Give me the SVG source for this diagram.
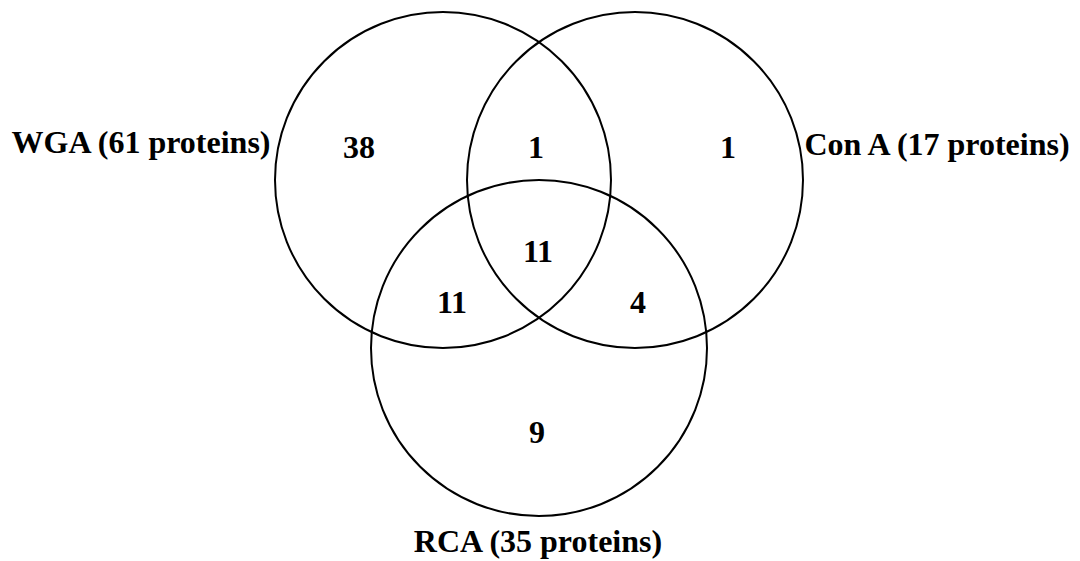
<svg xmlns="http://www.w3.org/2000/svg" width="1080" height="561" viewBox="0 0 1080 561">
<style>
.c{fill:none;stroke:#000;stroke-width:2}
text{font-family:"Liberation Serif","Times New Roman",serif;font-weight:bold;font-size:32px;fill:#000;text-anchor:middle}
</style>
<rect width="1080" height="561" fill="#fff"/>
<g id="wga"><circle class="c" cx="443" cy="180" r="168"/><text x="141" y="153">WGA (61 proteins)</text></g>
<g id="cona"><circle class="c" cx="635" cy="180" r="168"/><text x="937" y="155">Con A (17 proteins)</text></g>
<g id="rca"><circle class="c" cx="539" cy="348" r="168"/><text x="538" y="552">RCA (35 proteins)</text></g>
<g id="counts">
<text x="359" y="158">38</text>
<text x="536" y="158">1</text>
<text x="728" y="158">1</text>
<text x="538" y="262">11</text>
<text x="452" y="313">11</text>
<text x="638" y="313">4</text>
<text x="537" y="443">9</text>
</g>
</svg>
